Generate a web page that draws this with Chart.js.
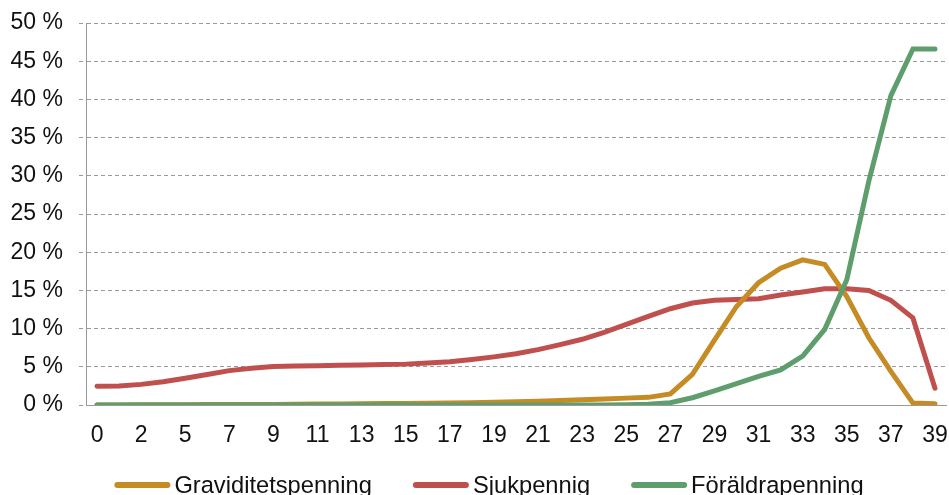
<!DOCTYPE html>
<html>
<head>
<meta charset="utf-8">
<script src="https://cdn.jsdelivr.net/npm/chart.js@4/dist/chart.umd.min.js"></script>
<style>
  html, body { margin: 0; padding: 0; background: #fff; }
  #c { display: block; }
</style>
</head>
<body>
<canvas id="c" width="949" height="495"></canvas>
<script>
// Week categories (x axis); every other one gets a visible label
const weeks = [0, 1, 2, 3, 5, 6, 7, 8, 9, 10, 11, 12, 13, 14, 15, 16, 17, 18, 19, 20,
               21, 22, 23, 24, 25, 26, 27, 28, 29, 30, 31, 32, 33, 34, 35, 36, 37, 38, 39];

// Share of each benefit type, percent
const graviditetspenning = [0.0, 0.0, 0.02, 0.03, 0.04, 0.05, 0.06, 0.07, 0.08, 0.1,
                            0.12, 0.14, 0.16, 0.18, 0.2, 0.23, 0.26, 0.3, 0.35, 0.42,
                            0.5, 0.6, 0.7, 0.8, 0.9, 1.0, 1.45, 4.0, 8.5, 12.9,
                            16.0, 17.9, 19.0, 18.4, 14.2, 8.8, 4.4, 0.25, 0.15];

const sjukpennig = [2.45, 2.5, 2.7, 3.05, 3.5, 4.0, 4.5, 4.8, 5.05, 5.1,
                    5.15, 5.2, 5.25, 5.3, 5.35, 5.5, 5.65, 5.95, 6.3, 6.7,
                    7.25, 7.9, 8.6, 9.5, 10.55, 11.6, 12.6, 13.35, 13.7, 13.8,
                    13.9, 14.4, 14.8, 15.2, 15.2, 15.0, 13.7, 11.4, 2.2];

const foraldrapenning = [0, 0, 0, 0, 0, 0, 0, 0, 0, 0,
                         0, 0, 0, 0, 0, 0, 0, 0, 0, 0,
                         0, 0, 0, 0, 0.02, 0.1, 0.3, 0.95, 1.85, 2.8,
                         3.75, 4.6, 6.4, 9.9, 16.4, 29.3, 40.5, 46.6, 46.6];

// Y axis range and tick step, percent
const yMin = 0;
const yMax = 50;
const yStep = 5;

const FONT = 'Liberation Sans, Arial, sans-serif';
const GRID = '#9a9a9a';
const TEXT = '#111';

function series(label, data, color, order) {
  return {
    label, data, order,
    borderColor: color,
    backgroundColor: color,
    borderWidth: 5,
    borderCapStyle: 'round',
    borderJoinStyle: 'miter',
    pointRadius: 0,
    pointHoverRadius: 0,
    tension: 0,
    fill: false
  };
}

// Legend row along the bottom: a short thick line then the series name
const bottomLegend = {
  id: 'bottomLegend',
  afterDraw(chart, args, opts) {
    const ctx = chart.ctx;
    const items = chart.data.datasets.map(ds => ({ text: ds.label, color: ds.borderColor }));
    ctx.save();
    ctx.font = opts.fontSize + 'px ' + FONT;
    const widths = items.map(it => opts.lineLength + opts.textGap + ctx.measureText(it.text).width);
    const total = widths.reduce((a, b) => a + b, 0) + opts.itemGap * (items.length - 1);
    let x = opts.centerX - total / 2;
    const y = opts.y;
    ctx.textBaseline = 'middle';
    ctx.textAlign = 'left';
    items.forEach((it, i) => {
      ctx.strokeStyle = it.color;
      ctx.lineWidth = 6;
      ctx.lineCap = 'round';
      ctx.beginPath();
      ctx.moveTo(x + 3, y);
      ctx.lineTo(x + opts.lineLength - 3, y);
      ctx.stroke();
      ctx.fillStyle = TEXT;
      ctx.fillText(it.text, x + opts.lineLength + opts.textGap, y + 1);
      x += widths[i] + opts.itemGap;
    });
    ctx.restore();
  }
};

new Chart(document.getElementById('c'), {
  type: 'line',
  data: {
    labels: weeks,
    datasets: [
      series('Graviditetspenning', graviditetspenning, '#C58B24', 2),
      series('Sjukpennig', sjukpennig, '#C0504D', 3),
      series('Föräldrapenning', foraldrapenning, '#5E9E6C', 1)
    ]
  },
  plugins: [bottomLegend],
  options: {
    responsive: false,
    animation: false,
    layout: { padding: { left: 0, right: 3, top: 23, bottom: 0 } },
    plugins: {
      tooltip: { enabled: false },
      legend: { display: false },
      bottomLegend: { fontSize: 23.7, lineLength: 56, textGap: 4, itemGap: 41, centerX: 489, y: 485 }
    },
    scales: {
      x: {
        type: 'category',
        offset: true,
        afterFit: (s) => { s.height = 90; s.paddingLeft = 0; s.paddingRight = 0; },
        grid: { display: false, drawTicks: false, drawOnChartArea: false },
        border: { display: true, color: GRID, width: 1 },
        ticks: {
          autoSkip: false,
          maxRotation: 0,
          padding: 17,
          color: TEXT,
          font: { family: FONT, size: 23 },
          callback: function (value, index) {
            return index % 2 === 0 ? String(this.getLabelForValue(value)) : '';
          }
        }
      },
      y: {
        min: yMin,
        max: yMax,
        afterFit: (s) => { s.width = 86; s.paddingTop = 0; s.paddingBottom = 0; },
        grid: {
          color: GRID,
          lineWidth: 1,
          tickLength: 7,
          tickColor: GRID,
          tickBorderDash: [4, 3]
        },
        border: { display: true, color: GRID, width: 1, dash: [4, 3] },
        ticks: {
          stepSize: yStep,
          padding: 16,
          color: TEXT,
          font: { family: FONT, size: 23 },
          callback: (v) => v + ' %'
        }
      }
    }
  }
});
</script>
</body>
</html>
